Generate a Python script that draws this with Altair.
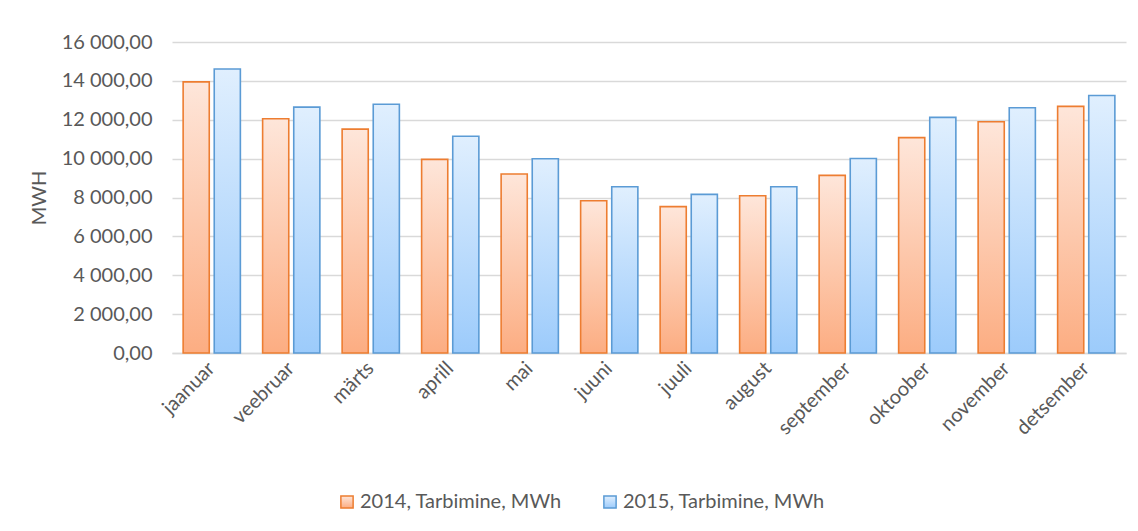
import altair as alt
import pandas as pd

months = ["jaanuar", "veebruar", "märts", "aprill", "mai", "juuni", "juuli",
          "august", "september", "oktoober", "november", "detsember"]
series = ["2014, Tarbimine, MWh", "2015, Tarbimine, MWh"]
v2014 = [13950, 12050, 11520, 9960, 9210, 7830, 7530, 8090, 9140, 11080, 11900, 12690]
v2015 = [14610, 12650, 12800, 11150, 9990, 8550, 8160, 8550, 10010, 12120, 12620, 13250]
y_ticks = [0, 2000, 4000, 6000, 8000, 10000, 12000, 14000, 16000]

rows = []
for m, a, b in zip(months, v2014, v2015):
    rows.append({"Kuu": m, "Seeria": series[0], "MWh": a})
    rows.append({"Kuu": m, "Seeria": series[1], "MWh": b})
df = pd.DataFrame(rows)


def grad(top, bottom):
    return {"expr": "{gradient: 'linear', x1: 0, y1: 0, x2: 0, y2: 1, stops: ["
                    "{offset: 0, color: '%s'}, {offset: 1, color: '%s'}]}" % (top, bottom)}


fill_range = [grad("#fee6da", "#fcad82"), grad("#e0effe", "#9ccbfb")]
stroke_range = ["#ed7d31", "#5b9bd5"]

font = "Lato"
txt = "#595959"


def legend():
    return alt.Legend(title=None, orient="none", direction="horizontal",
                      legendX=165, legendY=450,
                      symbolType="square", symbolSize=150,
                      symbolStrokeWidth=1.5, columnPadding=38,
                      labelOffset=3, labelLimit=0, labelFont=font, labelFontSize=20,
                      labelColor=txt)


chart = alt.Chart(df).mark_bar(strokeWidth=1.6).encode(
    x=alt.X("Kuu:N", sort=months, title=None,
            scale=alt.Scale(paddingInner=0.28, paddingOuter=0.14),
            axis=alt.Axis(labelAngle=-45, labelAlign="right", labelBaseline="middle",
                          labelPadding=12, ticks=False, domain=True,
                          domainColor="#d9d9d9", domainWidth=1.5,
                          labelFont=font, labelFontSize=20, labelColor=txt)),
    xOffset=alt.XOffset("Seeria:N", sort=series, scale=alt.Scale(paddingInner=0.16)),
    y=alt.Y("MWh:Q", title="MWH",
            scale=alt.Scale(domain=[0, 16000], nice=False),
            axis=alt.Axis(values=y_ticks, ticks=False, domain=False,
                          gridColor="#d9d9d9", gridWidth=1.3,
                          labelExpr="replace(replace(format(datum.value, ',.2f'), ',', ' '), '.', ',')",
                          labelFont=font, labelFontSize=20, labelColor=txt, labelPadding=20,
                          titleFont=font, titleFontSize=20, titleColor=txt,
                          titleFontWeight="normal", titlePadding=12)),
    fill=alt.Fill("Seeria:N", sort=series, scale=alt.Scale(domain=series, range=fill_range),
                  legend=legend()),
    stroke=alt.Stroke("Seeria:N", sort=series, scale=alt.Scale(domain=series, range=stroke_range),
                      legend=legend()),
).properties(
    width=954, height=311,
    autosize=alt.AutoSizeParams(type="none"),
    padding={"left": 164, "top": 34, "right": 4, "bottom": 170},
).configure_view(stroke=None)

chart.save("out.html", embed_options={"renderer": "svg", "actions": False})
